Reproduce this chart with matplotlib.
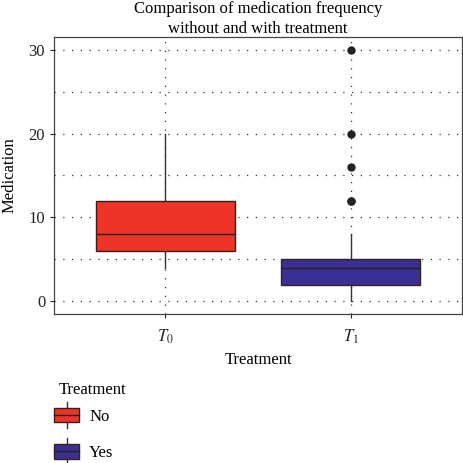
import matplotlib.pyplot as plt
from matplotlib.legend_handler import HandlerBase
from matplotlib.patches import Rectangle
from matplotlib.lines import Line2D

# data
groups = ['$T_0$', '$T_1$']
legend_names = ['No', 'Yes']
q1 = [6, 2]
med = [8, 4]
q3 = [12, 5]
whislo = [4, 0]
whishi = [20, 8]
fliers = [[], [12, 12, 16, 20, 30]]
colors = ['#EE3427', '#3A2F92']
edge = '#3a1f1f'

plt.rcParams['font.family'] = ['Liberation Serif', 'DejaVu Serif']
plt.rcParams['mathtext.fontset'] = 'stix'
fs = 12

fig = plt.figure(figsize=(4.63, 4.63), dpi=100)
ax = fig.add_axes([0.117, 0.322, 0.881, 0.598])

stats = []
for i in range(len(groups)):
    stats.append(dict(q1=q1[i], med=med[i], q3=q3[i], whislo=whislo[i],
                      whishi=whishi[i], fliers=fliers[i], label=groups[i]))

bp = ax.bxp(stats, positions=[0, 1], widths=0.75, patch_artist=True,
            showcaps=False,
            boxprops=dict(linewidth=1.0, edgecolor=edge),
            medianprops=dict(color='#222222', linewidth=1.0),
            whiskerprops=dict(color='#333333', linewidth=1.0),
            flierprops=dict(marker='o', markerfacecolor='#222222',
                            markeredgecolor='#222222', markersize=5))
for patch, c in zip(bp['boxes'], colors):
    patch.set_facecolor(c)
    patch.set_zorder(3)
for w in bp['whiskers']:
    w.set_zorder(2)
for m in bp['medians']:
    m.set_zorder(4)
for f in bp['fliers']:
    f.set_zorder(4)

ax.set_xlim(-0.6, 1.6)
ax.set_ylim(-1.5, 31.5)
ax.set_yticks([0, 10, 20, 30])
ax.set_yticks([5, 15, 25], minor=True)
ax.set_xticks([0, 1])
ax.set_xticklabels(groups)
ax.grid(True, which='both', linestyle=(0, (1, 6)), color='#333333', linewidth=0.9, zorder=0)
ax.set_axisbelow(True)
ax.tick_params(which='minor', length=0)
ax.tick_params(which='major', direction='out', length=3, width=0.8, labelsize=fs, colors='#222222')
ax.tick_params(axis='x', pad=7)
for s in ax.spines.values():
    s.set_color('#444444')
    s.set_linewidth(0.9)

ax.set_title('Comparison of medication frequency\nwithout and with treatment',
             fontsize=fs, pad=3, linespacing=1.3)
ax.set_xlabel('Treatment', fontsize=fs, labelpad=4)
ax.set_ylabel('Medication', fontsize=fs, labelpad=8)


class BoxHandler(HandlerBase):
    def create_artists(self, legend, orig_handle, xdescent, ydescent,
                       width, height, fontsize, trans):
        c = orig_handle.get_facecolor()
        x0 = -xdescent
        y0 = -ydescent
        rect = Rectangle((x0, y0), width, height, facecolor=c, edgecolor=edge,
                         linewidth=1.0, transform=trans)
        mid = Line2D([x0, x0 + width], [y0 + height / 2] * 2, color='#222222',
                     linewidth=1.0, transform=trans)
        wl1 = Line2D([x0 + width / 2] * 2, [y0 + height, y0 + height + 4],
                     color='#333333', linewidth=1.0, transform=trans)
        wl2 = Line2D([x0 + width / 2] * 2, [y0, y0 - 4],
                     color='#333333', linewidth=1.0, transform=trans)
        return [wl1, wl2, rect, mid]


# legend title drawn separately so its gap to the first key can be tighter
fig.text(59 / 463, 1 - 390 / 463, 'Treatment', fontsize=fs, va='center', ha='left')
handles = [Rectangle((0, 0), 1, 1, facecolor=c) for c in colors]
leg = fig.legend(handles, legend_names, handler_map={Rectangle: BoxHandler()},
                 loc='upper left', bbox_to_anchor=(0.092, 0.145),
                 frameon=False, fontsize=fs,
                 handlelength=1.5, handleheight=1.0, labelspacing=1.15,
                 handletextpad=0.6, borderpad=0.2)

fig.savefig('out.png', dpi=100)
